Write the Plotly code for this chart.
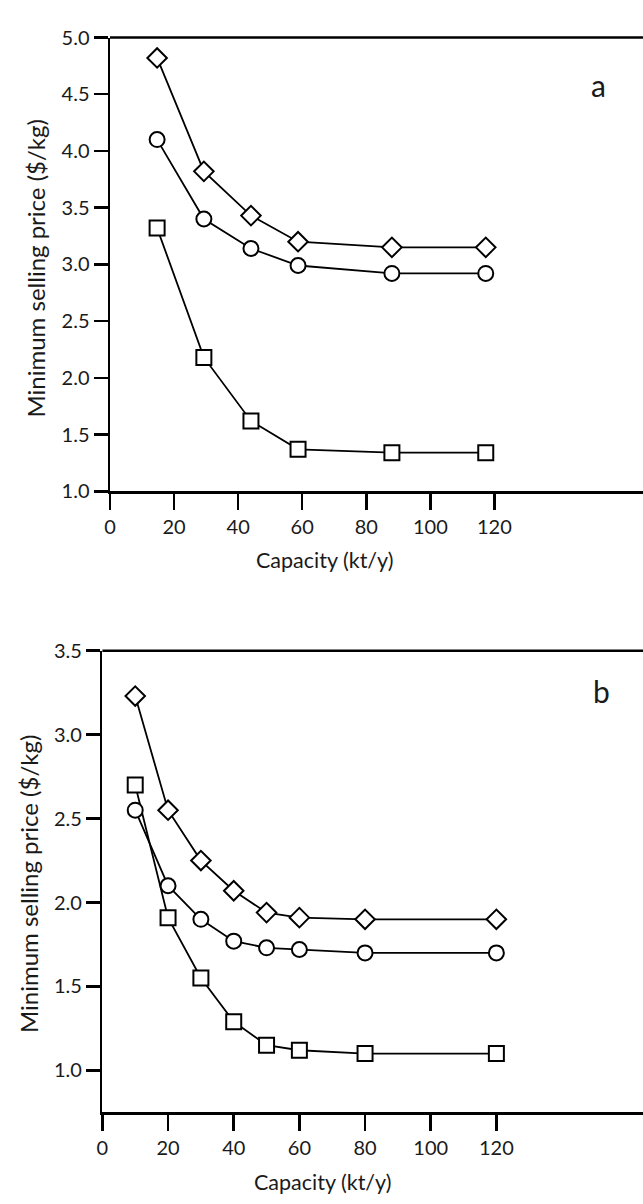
import plotly.graph_objects as go

# ---- data ----
cap_a = [14.7, 29.3, 44.0, 58.7, 88.0, 117.3]
a_diamond = [4.82, 3.82, 3.43, 3.20, 3.15, 3.15]
a_circle = [4.10, 3.40, 3.14, 2.99, 2.92, 2.92]
a_square = [3.32, 2.18, 1.62, 1.37, 1.34, 1.34]

cap_b = [10, 20, 30, 40, 50, 60, 80, 120]
b_diamond = [3.23, 2.55, 2.25, 2.07, 1.94, 1.91, 1.90, 1.90]
b_circle = [2.55, 2.10, 1.90, 1.77, 1.73, 1.72, 1.70, 1.70]
b_square = [2.70, 1.91, 1.55, 1.29, 1.15, 1.12, 1.10, 1.10]

x_ticks = [0, 20, 40, 60, 80, 100, 120]
ya_ticks = [1.0, 1.5, 2.0, 2.5, 3.0, 3.5, 4.0, 4.5, 5.0]
yb_ticks = [1.0, 1.5, 2.0, 2.5, 3.0, 3.5]

W, H = 643, 1204
FONT = "Lato"
TXT = "#1a1a1a"

fig = go.Figure()

def add(x, y, symbol, xa, ya):
    fig.add_trace(go.Scatter(
        x=x, y=y, mode="lines+markers", xaxis=xa, yaxis=ya,
        line=dict(color="black", width=1.8),
        marker=dict(symbol=symbol, size=15, color="white",
                    line=dict(color="black", width=2)),
        showlegend=False))

add(cap_a, a_square, "square", "x", "y")
add(cap_a, a_circle, "circle", "x", "y")
add(cap_a, a_diamond, "diamond", "x", "y")
add(cap_b, b_square, "square", "x2", "y2")
add(cap_b, b_circle, "circle", "x2", "y2")
add(cap_b, b_diamond, "diamond", "x2", "y2")

def px_x(p):
    return p / W

def px_y(p):
    return (H - p) / H

common = dict(showline=True, linecolor="black", linewidth=2.5,
              ticks="outside", tickcolor="black", tickwidth=2.5,
              showgrid=False, zeroline=False,
              tickfont=dict(family=FONT, size=20, color=TXT))

ax_a_left, ax_b_left = 105, 97.3
xa_max = (W - ax_a_left) / ((493 - ax_a_left) / 120)
xb_max = (W - ax_b_left) / ((495 - ax_b_left) / 120)

fig.update_layout(
    width=W, height=H, margin=dict(l=0, r=0, t=0, b=0),
    paper_bgcolor="white", plot_bgcolor="white",
    xaxis=dict(domain=[px_x(ax_a_left), 1], range=[0, xa_max], anchor="y",
               tickvals=x_ticks, ticklen=16, **common),
    yaxis=dict(domain=[px_y(488), px_y(25)], range=[1.0, 5.0], anchor="x",
               tickvals=ya_ticks, tickformat=".1f", ticklen=14, **common),
    xaxis2=dict(domain=[px_x(ax_b_left), 1], range=[0, xb_max], anchor="y2",
                tickvals=x_ticks, ticklen=16, **common),
    yaxis2=dict(domain=[px_y(1121.7), px_y(650.7)], range=[0.75, 3.5], anchor="x2",
                tickvals=yb_ticks, tickformat=".1f", ticklen=14, **common),
)

# top frame lines
for yref, xref in (("y domain", "x domain"), ("y2 domain", "x2 domain")):
    fig.add_shape(type="line", xref=xref, yref=yref, x0=0, x1=1, y0=1, y1=1,
                  line=dict(color="black", width=2.5), layer="above")

def ann(text, x, y, size, angle=0):
    fig.add_annotation(text=text, x=px_x(x), y=px_y(y), xref="paper", yref="paper",
                       showarrow=False, textangle=angle, xanchor="center", yanchor="middle",
                       font=dict(family=FONT, size=size, color=TXT))

ann("Minimum selling price ($/kg)", 30, 261, 24, -90)
ann("Capacity (kt/y)", 322, 558, 21.5)
ann("a", 598, 73, 30)
ann("Minimum selling price ($/kg)", 22, 889, 24, -90)
ann("Capacity (kt/y)", 319, 1193, 21.5)
ann("b", 601, 692, 30)

fig.write_html(
    "out.html",
    config={"displayModeBar": False, "staticPlot": True},
    post_script="document.body.style.margin='0';document.body.style.overflow='hidden';",
)
